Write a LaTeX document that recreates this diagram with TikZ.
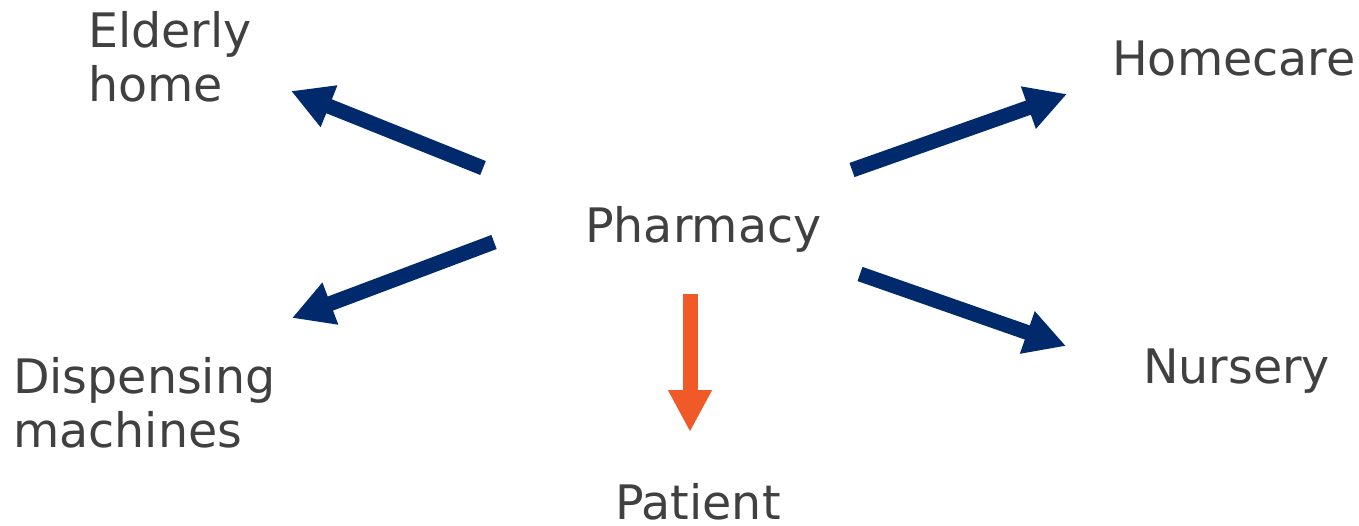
\documentclass[tikz,border=0pt]{standalone}
\usepackage{fontspec}
\setmainfont{DejaVu Sans}
\usetikzlibrary{arrows.meta}
\definecolor{navy}{RGB}{0,42,108}
\definecolor{orng}{RGB}{240,90,40}
\definecolor{txt}{RGB}{64,64,64}
\begin{document}
\begin{tikzpicture}[x=1pt,y=-1pt,
  lbl/.style={inner sep=0pt,anchor=base west,text=txt,font=\fontsize{47.5}{54}\selectfont,align=left},
  navyarrow/.style={draw=navy,line width=15pt,-{Triangle[width=42pt,length=41pt]}},
  orangearrow/.style={draw=orng,line width=15pt,-{Triangle[width=41pt,length=42pt]}}]
\useasboundingbox (0,0) rectangle (1359,526);
\fill[white] (0,0) rectangle (1359,526);
\node[lbl] (pharmacy) at (585,243) {Pharmacy};
\node[lbl] (elderly) at (88,102) {Elderly\\home};
\node[lbl] (homecare) at (1112,76) {Homecare};
\node[lbl] (dispensing) at (13,447) {Dispensing\\machines};
\node[lbl] (nursery) at (1143,383) {Nursery};
\node[lbl] (patient) at (615,519) {Patient};
\coordinate (eT) at (483,168); \coordinate (eH) at (291,91);
\coordinate (hT) at (852,170); \coordinate (hH) at (1067,94);
\coordinate (dT) at (494,242); \coordinate (dH) at (292,318);
\coordinate (nT) at (860,274); \coordinate (nH) at (1066,346);
\coordinate (pT) at (690,294); \coordinate (pH) at (690,432);
\draw[navyarrow] (eT) -- (eH);
\draw[navyarrow] (hT) -- (hH);
\draw[navyarrow] (dT) -- (dH);
\draw[navyarrow] (nT) -- (nH);
\draw[orangearrow] (pT) -- (pH);
\end{tikzpicture}
\end{document}
